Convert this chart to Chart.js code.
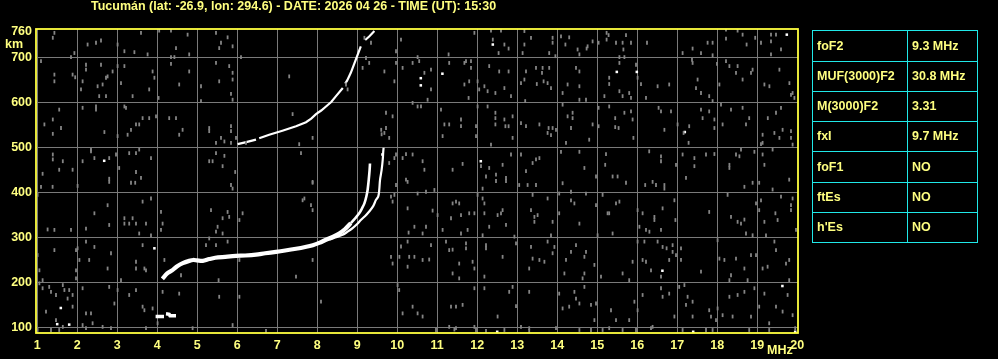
<!DOCTYPE html>
<html>
<head>
<meta charset="utf-8">
<script src="https://cdn.jsdelivr.net/npm/chart.js@4.4.0/dist/chart.umd.min.js"></script>
<style>
html,body{margin:0;padding:0;background:#000;}
#wrap{width:998px;height:359px;}
</style>
</head>
<body>
<div id="wrap"><canvas id="c" width="998" height="359"></canvas></div>
<script>
// ---------- DATA ----------
const titleText = "Tucumán (lat: -26.9, lon: 294.6) - DATE: 2026 04 26 - TIME (UT): 15:30";
const xTicks = [1,2,3,4,5,6,7,8,9,10,11,12,13,14,15,16,17,18,19,20];
const yTicks = [100,200,300,400,500,600,700,760];
const xUnit = "MHz";
const yUnit = "km";

const tableLabels = ["foF2","MUF(3000)F2","M(3000)F2","fxI","foF1","ftEs","h'Es"];
const tableValues = ["9.3 MHz","30.8 MHz","3.31","9.7 MHz","NO","NO","NO"];

// F2 ordinary trace (MHz, km): low flat part and cusp part
const oTraceLow = [[4.13,208],[4.25,220],[4.39,228],[4.5,236],[4.64,243],[4.8,248],[4.9,250],[5.0,249],[5.14,248],[5.3,252],[5.45,255],[5.7,257],[5.97,259],[6.2,260],[6.47,262],[6.7,265],[6.97,268],[7.2,271],[7.47,275],[7.7,279],[7.89,283],[8.05,288],[8.22,295],[8.4,302],[8.55,309],[8.7,319],[8.84,332]];
const oTraceHigh = [[8.84,332],[8.95,343],[9.05,354],[9.12,365],[9.18,376],[9.23,392],[9.26,406],[9.29,430],[9.31,450],[9.32,465]];
// F2 extraordinary trace
const xTrace = [[8.3,295],[8.45,300],[8.635,306],[8.76,313],[8.885,321],[9.0,330],[9.09,339],[9.2,348],[9.3,358],[9.4,370],[9.47,384],[9.525,391],[9.55,405],[9.57,428],[9.61,450],[9.64,475],[9.65,490],[9.66,500]];
// second hop F2 trace (null = gap)
const f2Hop = [[6.01,508],[6.2,512],[6.47,518],null,[6.55,521],[6.8,529],[7.13,538],[7.47,548],[7.72,557],[7.85,565],[7.97,575],[8.1,583],[8.22,592],[8.35,602],[8.47,615],[8.64,633],null,[8.7,643],[8.75,650],[8.84,667],[8.93,688],[9.01,707],[9.09,726],null,[9.2,740],[9.3,748],[9.43,760]];
// E region echo
const eTrace = [[3.96,124],[4.17,124],null,[4.22,130],[4.3,129],[4.32,126],[4.47,126]];
// isolated bright echoes
const brightDots = [[1.59,143],[1.8,106],[1.5,107],[3.93,276],[2.675,471],[12.39,730],[10.59,655],[10.59,639],[11.13,665],[15.49,669],[15.99,669],[19.74,752],[12.09,470],[17.19,535],[16.63,226],[19.63,192],[17.4,90],[12.5,90],[19.95,90],[9.63,485]];
// background noise speckles
const noisePoints = [
[1.43,756],[1.39,745],[1.845,702],[1.93,711],[2.26,730],[2.47,734],[2.595,739],[3.01,730],[3.18,715],[3.43,713],[3.595,756],[3.76,708],[4.05,761],[4.345,761],[4.47,722],[4.76,752],[4.8,708],[4.345,702],[4.43,702],[5.47,756],[5.595,734],[5.55,722],[5.76,746],[5.885,726],[6.095,702],
[1.095,693],[1.43,663],[1.43,648],[1.885,663],[1.95,657],[2.22,685],[2.22,674],[2.135,648],[2.095,630],[2.51,637],[2.635,641],[2.595,685],[2.72,656],[2.76,659],[2.885,670],[2.55,615],[2.72,615],[3.01,682],[3.18,682],[3.095,644],[3.385,615],[3.8,630],[3.93,656],[3.885,670],[4.035,611],[4.345,687],[4.55,641],[4.8,670],[5.095,637],[5.095,604],[5.47,689],[5.55,648],[5.8,682],[5.885,667],[5.885,652],[5.885,607],[5.845,620],[7.3,659],[9.22,700],[9.135,678],[9.3,689],[9.68,670],[9.93,648],[9.97,689],[10.135,678],[10.385,689],[10.095,741],[9.97,715],[9.345,734],[9.18,745],[8.72,641],[8.76,630],
[1.55,585],[1.18,552],[1.39,563],[1.595,544],[1.39,531],[2.135,589],[2.47,592],[2.47,585],[2.68,535],[3.01,526],[3.18,592],[3.22,589],[3.26,529],[3.345,540],[3.47,552],[3.55,552],[3.635,566],[3.8,566],[3.97,570],[4.3,566],[4.47,566],[4.55,529],[4.635,540],[5.3,544],[5.3,537],[5.595,522],[5.47,511],[5.68,514],[5.845,548],[5.845,537],[5.845,511],[5.97,522],[6.22,511],[7.385,575],[7.885,522],[7.55,508],[9.72,578],[9.885,570],[9.68,533],[9.72,544],[9.8,522],[10.385,600],[9.61,530],[9.6,540],
[1.39,485],[1.39,474],[1.64,470],[1.55,451],[1.885,451],[1.135,442],[2.135,470],[2.345,496],[2.345,492],[2.43,477],[2.8,477],[2.97,485],[3.05,455],[3.3,488],[3.47,488],[3.55,496],[3.47,446],[3.595,433],[2.8,431],[3.845,477],[5.47,488],[5.68,482],[5.3,470],[5.385,470],[5.635,459],[5.95,446],[7.595,488],[7.885,424],[9.97,485],[10.135,477],[10.22,486],[10.385,485],[9.93,477],[9.8,466],[10.22,429],
[11.93,756],[12.345,761],[12.39,741],[12.595,761],[12.535,711],[12.68,730],[12.785,721],[13.18,760],[13.18,730],[13.135,711],[13.345,745],[13.885,745],[13.885,734],[13.8,711],[13.955,704],[14.095,748],[14.3,746],[14.205,730],[14.51,719],[14.555,708],[14.76,726],[14.735,721],[14.885,737],[15.035,734],[15.235,756],[15.235,741],[15.285,751],[15.47,734],[15.555,702],[15.635,734],[15.72,751],[15.655,719],[15.68,702],[15.845,734],[16.245,734],[17.135,711],[17.385,721],[17.595,711],[17.76,734],[17.885,734],[17.885,706],[18.22,763],[18.22,743],[18.51,761],[18.635,752],[18.735,730],[18.95,745],[19.095,734],[19.345,752],[19.345,737],[19.47,752],[19.595,719],[19.345,708],[11.285,708],[10.51,702],
[10.55,693],[10.68,667],[10.845,674],[10.76,607],[10.845,630],[11.3,689],[11.68,689],[11.72,693],[11.845,693],[11.845,678],[11.8,648],[11.68,641],[11.785,611],[12.01,648],[12.05,630],[12.18,637],[12.26,626],[12.3,682],[12.455,622],[12.68,633],[12.55,670],[12.785,670],[12.845,615],[13.095,644],[13.18,652],[13.22,670],[13.2,604],[13.47,678],[13.635,678],[13.62,667],[13.66,648],[13.76,644],[13.8,678],[13.845,633],[13.49,642],[14.135,622],[14.26,641],[14.47,678],[14.555,670],[14.555,637],[14.555,607],[14.72,607],[15.3,656],[15.3,642],[15.18,615],[15.555,689],[15.635,615],[15.555,626],[15.845,611],[15.8,622],[15.97,685],[16.01,656],[16.095,642],[16.22,611],[16.51,637],[16.8,641],[17.37,696],[17.51,652],[17.47,633],[17.595,622],[17.385,689],[17.8,615],[17.885,604],[17.995,687],[18.055,641],[18.22,693],[18.305,682],[18.51,682],[18.47,667],[18.635,652],[18.845,667],[18.885,674],[19.18,641],[19.305,637],[19.555,674],[19.805,644],[19.885,622],[19.93,611],[19.845,618],
[10.51,592],[10.595,592],[11.095,585],[11.18,552],[11.135,526],[11.3,552],[11.595,563],[11.595,548],[11.97,548],[12.01,592],[11.97,526],[12.26,592],[12.455,578],[12.455,566],[12.455,552],[12.345,507],[12.68,563],[12.705,548],[12.785,548],[12.885,570],[12.885,522],[13.095,555],[13.22,548],[13.555,552],[13.76,533],[13.785,544],[13.885,544],[13.97,540],[13.845,528],[14.135,596],[14.26,570],[14.385,566],[14.345,544],[14.385,578],[14.22,511],[14.8,518],[14.885,552],[15.035,589],[15.035,548],[15.3,592],[15.45,566],[15.45,546],[15.535,544],[15.68,578],[15.845,581],[15.885,563],[15.905,522],[16.535,589],[16.595,581],[16.845,581],[16.68,540],[17.01,552],[17.3,548],[17.16,533],[17.285,511],[17.595,585],[17.635,566],[17.8,581],[17.93,563],[17.93,544],[18.095,596],[18.135,552],[18.345,585],[18.635,589],[18.72,552],[18.8,566],[19.265,566],[19.47,578],[19.595,589],[19.135,529],[19.135,511],[19.43,533],[19.555,522],[19.635,540],[19.845,537],[19.845,522],[19.885,507],[19.095,508],
[10.635,470],[10.68,451],[11.385,451],[11.635,464],[12.095,459],[12.22,436],[12.3,455],[12.47,440],[12.635,462],[12.72,433],[12.845,485],[13.095,485],[13.22,448],[13.385,466],[13.47,474],[13.555,477],[14.095,491],[14.555,491],[14.68,455],[14.97,436],[15.22,486],[15.2,462],[15.385,436],[15.51,436],[16.3,492],[16.595,481],[16.595,470],[16.97,462],[17.135,485],[17.22,433],[17.43,477],[17.43,459],[17.72,485],[17.93,486],[18.305,462],[18.305,455],[18.47,485],[18.555,481],[18.595,496],[18.93,491],[19.135,485],[19.18,462],[19.385,496],[19.8,429],
[1.095,413],[1.385,413],[2.01,415],[2.8,424],[3.345,422],[3.45,422],[5.845,417],[5.885,409],[7.885,422],[9.97,417],[10.26,424],
[1.01,395],[1.26,318],[1.43,317],[1.845,317],[2.22,320],[2.43,354],[2.76,372],[2.8,328],[3.18,343],[3.18,331],[3.385,343],[3.3,331],[3.47,331],[3.55,309],[3.635,380],[3.72,331],[3.845,387],[3.845,305],[4.095,317],[4.135,331],[4.095,357],[5.345,361],[5.51,324],[5.47,313],[5.635,343],[5.76,357],[5.8,346],[5.635,309],[6.055,339],[6.135,354],[7.635,383],[7.68,387],[7.845,372],[7.885,361],[9.845,391],[9.885,380],[9.93,395],[10.26,365],[10.285,311],[10.43,324],
[1.01,261],[1.055,227],[1.135,205],[1.43,272],[1.97,272],[2.01,276],[2.055,250],[1.97,227],[1.97,209],[2.22,291],[2.3,250],[2.43,279],[2.76,231],[2.845,265],[3.095,205],[3.47,231],[3.47,246],[3.635,283],[3.68,231],[3.72,227],[4.18,250],[4.595,216],[5.22,283],[5.3,298],[5.47,283],[5.535,205],[5.76,291],[6.055,250],[7.47,213],[7.885,250],[9.845,257],[9.885,242],[10.055,257],[10.095,280],[10.26,291],[10.26,235],[10.3,257],[10.43,257],[10.01,194],
[1.055,198],[1.135,187],[1.3,190],[1.345,179],[1.47,172],[1.22,135],[1.64,194],[1.68,183],[1.8,183],[1.885,172],[1.76,164],[1.885,146],[2.135,187],[2.22,131],[2.345,131],[1.47,116],[1.01,94],[1.345,94],[1.64,101],[2.135,105],[2.385,109],[2.845,98],[2.93,153],[2.8,190],[3.01,183],[3.3,172],[3.47,183],[3.635,146],[3.68,138],[3.885,142],[4.01,109],[4.135,179],[4.55,175],[5.55,168],[6.055,168],[8.095,157],[10.135,131],[10.385,146],[10.05,183],
[12.47,426],[12.72,426],[13.05,417],[13.26,417],[13.47,417],[14.135,421],[15.72,422],[16.2,417],[16.385,424],[16.47,417],[16.68,417],[16.68,409],[18.68,413],[18.885,422],[19.05,422],[19.385,407],[12.135,409],[10.93,406],[10.72,402],[10.51,398],
[12.01,395],[12.135,387],[12.18,376],[11.385,376],[11.47,380],[11.55,376],[10.885,360],[11.01,350],[11.345,343],[11.595,350],[11.8,354],[11.93,354],[12.18,354],[12.3,324],[12.135,305],[11.76,317],[11.595,309],[11.135,317],[10.72,324],[10.635,309],[12.51,350],[12.595,354],[12.635,361],[12.72,328],[13.385,395],[13.345,361],[13.43,346],[13.51,350],[13.43,335],[13.885,335],[13.845,305],[13.76,387],[14.05,354],[14.05,398],[14.345,383],[14.43,376],[14.345,402],[14.555,331],[14.72,398],[14.97,372],[15.01,305],[15.135,395],[15.26,354],[15.47,376],[15.555,380],[15.385,309],[15.3,354],[16.01,361],[16.135,354],[16.055,324],[16.22,317],[16.305,313],[16.43,339],[16.43,346],[16.595,317],[16.635,365],[16.93,383],[16.955,339],[17.8,357],[18.26,395],[18.345,346],[18.51,335],[18.595,331],[18.68,340],[18.72,309],[18.885,305],[18.97,376],[19.05,361],[19.095,383],[19.18,335],[19.455,354],[19.51,339],[19.595,391],[19.845,372],[19.845,361],[19.22,305],[19.97,317],[19.885,387],
[10.845,283],[10.8,251],[10.635,250],[11.22,291],[11.3,272],[11.385,273],[11.55,242],[11.55,209],[11.385,220],[11.72,287],[11.72,276],[11.885,246],[11.93,231],[12.22,283],[12.22,276],[12.18,213],[12.635,257],[12.93,302],[12.97,287],[13.3,231],[13.345,279],[13.385,253],[13.555,250],[13.68,246],[13.76,291],[13.885,265],[13.93,279],[14.18,220],[14.22,250],[14.345,268],[14.47,283],[14.68,257],[14.72,268],[14.68,220],[14.635,209],[14.93,239],[15.095,213],[15.635,220],[15.8,205],[15.885,246],[16.01,291],[16.18,291],[16.135,250],[16.22,246],[16.345,227],[16.51,291],[16.635,279],[16.595,213],[16.735,276],[16.8,250],[16.885,283],[16.885,268],[16.97,261],[17.095,250],[17.095,276],[17.595,224],[18.01,294],[18.055,253],[18.18,250],[18.305,205],[18.345,216],[18.47,253],[18.68,231],[18.76,205],[18.845,261],[18.97,261],[19.135,231],[19.26,235],[19.43,291],[19.47,272],[19.72,242],[19.8,250],
[10.51,131],[10.635,124],[11.345,146],[11.47,146],[11.635,150],[11.3,101],[11.47,98],[11.93,187],[11.93,101],[12.18,187],[12.51,124],[12.8,179],[12.885,190],[12.97,147],[13.3,179],[13.3,98],[14.05,175],[14.135,142],[14.3,146],[14.43,179],[14.47,164],[14.555,153],[14.68,190],[14.845,150],[14.97,153],[14.93,116],[15.345,138],[15.47,116],[15.8,116],[15.93,157],[16.01,138],[16.135,172],[16.385,101],[16.595,187],[16.635,168],[16.8,175],[16.93,124],[17.05,190],[17.18,194],[17.26,168],[17.22,150],[17.385,157],[17.385,124],[17.8,138],[17.845,124],[17.97,116],[18.01,142],[18.135,127],[18.305,168],[18.385,124],[18.51,172],[18.68,179],[18.845,124],[18.93,187],[19.05,146],[19.18,175],[19.3,109],[19.47,146],[19.635,135],[19.76,172],[19.8,205],[19.885,127],[19.95,98],
[10.97,94],[11.43,95],[11.97,94],[12.22,92],[12.68,94],[13.095,101],[13.3,92],[13.97,98],[14.555,94],[14.845,94],[15.135,94],[15.3,98],[15.635,94],[15.97,94],[16.345,98],[17.135,94],[17.72,94],[17.885,94],[18.8,94],[19.3,94],
[1.55,94],[2.22,98],[2.635,101],[3.72,98],[4.885,98],[5.885,105],[6.72,92]
];

// ---------- STYLE ----------
const TXT = '#ffff80';
const FRAME = '#ffff40';
const GRID = '#7a7a7a';
const NOISE = '#858585';
const CYAN = '#20e8e8';
const FONT = '"Liberation Sans", Arial, sans-serif';

// convert [x,y] pairs to points; a null entry becomes a break in the line
const toXY = a => {
  const out = [];
  let lastX = 0;
  a.forEach(p => {
    if (p) { out.push({x:p[0], y:p[1]}); lastX = p[0]; }
    else { out.push({x:lastX, y:null}); }
  });
  return out;
};

const decor = {
  id: 'decor',
  beforeDraw(chart) {
    const c = chart.ctx;
    c.save(); c.fillStyle = '#000'; c.fillRect(0,0,chart.width,chart.height); c.restore();
  },
  afterDraw(chart) {
    const c = chart.ctx, a = chart.chartArea;
    c.save();
    c.strokeStyle = FRAME; c.lineWidth = 1.8;
    c.strokeRect(a.left, a.top, a.right - a.left, a.bottom - a.top);
    c.fillStyle = TXT;
    c.font = 'bold 12.5px ' + FONT;
    c.textBaseline = 'middle'; c.textAlign = 'left';
    c.fillText(titleText, 91, 7);
    c.fillText(yUnit, 5, 45);
    c.fillText(xUnit, 767, 351);
    // parameter table
    const tx = [812, 907, 977];
    const ty = [30, 61, 91, 121, 151, 182, 212, 242];
    c.strokeStyle = CYAN; c.lineWidth = 1;
    c.strokeRect(tx[0]+0.5, ty[0]+0.5, tx[2]-tx[0], ty[ty.length-1]-ty[0]);
    c.beginPath();
    c.moveTo(tx[1]+0.5, ty[0]); c.lineTo(tx[1]+0.5, ty[ty.length-1]);
    for (let i = 1; i < ty.length-1; i++) { c.moveTo(tx[0], ty[i]+0.5); c.lineTo(tx[2], ty[i]+0.5); }
    c.stroke();
    for (let i = 0; i < tableLabels.length; i++) {
      const cy = (ty[i] + ty[i+1]) / 2 + 1;
      c.fillText(tableLabels[i], tx[0] + 5, cy);
      c.fillText(tableValues[i], tx[1] + 5, cy);
    }
    c.restore();
  }
};

new Chart(document.getElementById('c'), {
  type: 'scatter',
  data: {
    datasets: [
      { label:'noise', data: toXY(noisePoints), pointStyle:'line', rotation:90, pointRadius:1.9, borderColor:NOISE, borderWidth:1.8, showLine:false },
      { label:'E', data: toXY(eTrace), showLine:true, borderColor:'#fff', borderWidth:3.5, pointRadius:0, spanGaps:false },
      { label:'2F', data: toXY(f2Hop), showLine:true, borderColor:'#fff', borderWidth:2.2, pointRadius:0, spanGaps:false },
      { label:'X', data: toXY(xTrace), showLine:true, borderColor:'#fff', borderWidth:2.2, pointRadius:0, tension:0.3 },
      { label:'O low', data: toXY(oTraceLow), showLine:true, borderColor:'#fff', borderWidth:4.2, pointRadius:0, tension:0.3 },
      { label:'O high', data: toXY(oTraceHigh), showLine:true, borderColor:'#fff', borderWidth:2.6, pointRadius:0, tension:0.3 },
      { label:'dots', data: toXY(brightDots), pointStyle:'rect', pointRadius:1.8, backgroundColor:'#fff', borderWidth:0, showLine:false }
    ]
  },
  options: {
    responsive: false,
    animation: false,
    devicePixelRatio: 1,
    layout: { padding: { left: 0, top: 29, right: 200, bottom: 0 } },
    plugins: { legend: { display:false }, tooltip: { enabled:false } },
    scales: {
      x: {
        type: 'linear', min: 0.97, max: 20.02,
        afterBuildTicks: s => { s.ticks = xTicks.map(v => ({value:v})); },
        afterFit: s => { s.height = 26; },
        grid: { color: ctx => (ctx.tick && ctx.tick.value === 20) ? 'rgba(0,0,0,0)' : GRID, lineWidth: 1, drawTicks: false },
        border: { display: false },
        ticks: { color: TXT, font: { family: FONT, size: 12.5, weight: 'bold' }, padding: 5, maxRotation: 0, autoSkip: false, callback: v => String(v) }
      },
      y: {
        type: 'linear', min: 87.3, max: 764.6,
        afterBuildTicks: s => { s.ticks = yTicks.map(v => ({value:v})); },
        afterFit: s => { s.width = 36; },
        grid: { color: ctx => (ctx.tick && ctx.tick.value === 760) ? 'rgba(0,0,0,0)' : GRID, lineWidth: 1, drawTicks: false },
        border: { display: false },
        ticks: { color: TXT, font: { family: FONT, size: 12.5, weight: 'bold' }, padding: 4, autoSkip: false, callback: v => String(v) }
      }
    }
  },
  plugins: [decor]
});
</script>
</body>
</html>
